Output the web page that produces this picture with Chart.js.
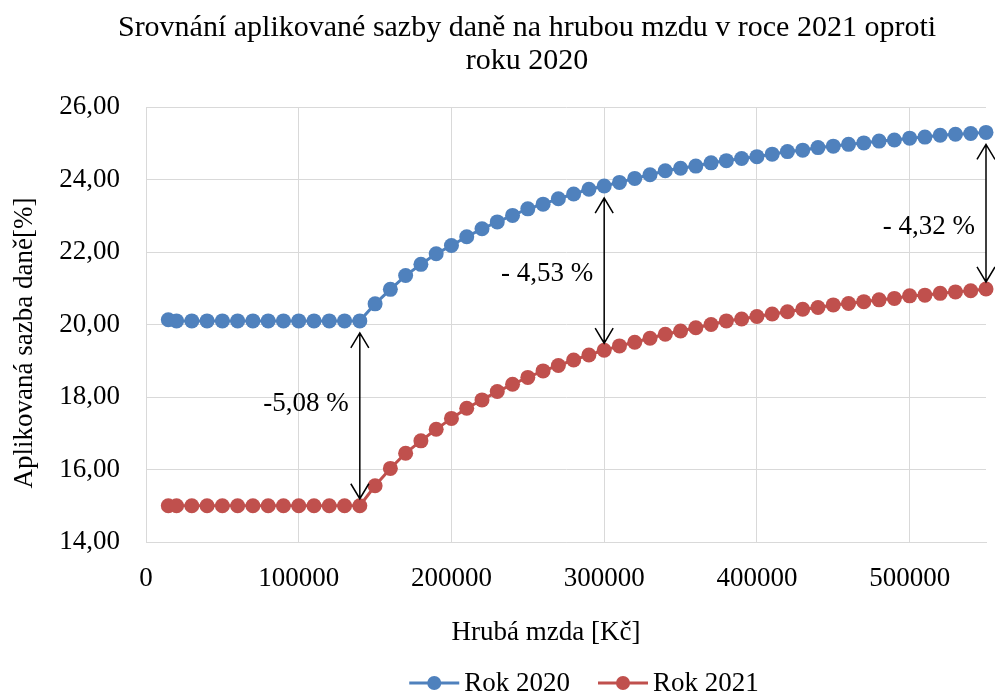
<!DOCTYPE html>
<html>
<head>
<meta charset="utf-8">
<script src="https://cdn.jsdelivr.net/npm/chart.js@4/dist/chart.umd.min.js"></script>
<style>
  html, body { margin: 0; padding: 0; background: #fff; }
</style>
</head>
<body>
<canvas id="myChart" width="995" height="696"></canvas>
<script>
// hrubá mzda [Kč]
const mzda = [
  14600, 20000, 30000, 40000, 50000, 60000, 70000, 80000, 90000, 100000,
  110000, 120000, 130000, 140000, 150000, 160000, 170000, 180000, 190000, 200000,
  210000, 220000, 230000, 240000, 250000, 260000, 270000, 280000, 290000, 300000,
  310000, 320000, 330000, 340000, 350000, 360000, 370000, 380000, 390000, 400000,
  410000, 420000, 430000, 440000, 450000, 460000, 470000, 480000, 490000, 500000,
  510000, 520000, 530000, 540000, 550000
];

const rok2020 = [
  20.13, 20.10, 20.10, 20.10, 20.10, 20.10, 20.10, 20.10, 20.10, 20.10,
  20.10, 20.10, 20.10, 20.10, 20.57, 20.97, 21.35, 21.66, 21.95, 22.18,
  22.42, 22.64, 22.83, 23.01, 23.19, 23.32, 23.47, 23.60, 23.73, 23.82,
  23.92, 24.03, 24.13, 24.24, 24.31, 24.37, 24.46, 24.52, 24.58, 24.63,
  24.70, 24.77, 24.81, 24.88, 24.92, 24.97, 25.01, 25.06, 25.09, 25.14,
  25.17, 25.22, 25.25, 25.27, 25.30
];

const rok2021 = [
  15.00, 15.00, 15.00, 15.00, 15.00, 15.00, 15.00, 15.00, 15.00, 15.00,
  15.00, 15.00, 15.00, 15.00, 15.55, 16.03, 16.45, 16.79, 17.11, 17.41,
  17.69, 17.92, 18.15, 18.35, 18.54, 18.72, 18.87, 19.02, 19.16, 19.29,
  19.41, 19.51, 19.62, 19.73, 19.82, 19.91, 20.00, 20.10, 20.15, 20.22,
  20.29, 20.35, 20.42, 20.47, 20.54, 20.58, 20.63, 20.68, 20.72, 20.79,
  20.81, 20.86, 20.90, 20.93, 20.98
];

// popisky osy x (osa končí na 550000 bez popisku)
const xTicks = [0, 100000, 200000, 300000, 400000, 500000];

// šipky s rozdílem
const rozdilMzda = [140000, 300000, 550000];
const rozdilText = ["-5,08 %", "- 4,53 %", "- 4,32 %"];

const titleLines = ["Srovnání aplikované sazby daně na hrubou mzdu v roce 2021 oproti", "roku 2020"];
const xTitle = "Hrubá mzda [Kč]";
const yTitle = "Aplikovaná sazba daně[%]";

const FONT = "'Liberation Serif', 'Times New Roman', serif";
const BLUE = "#4f81bd";
const RED = "#c0504d";
const GRID = "#d9d9d9";

// posun popisku šipky (px) kvůli ručnímu rozmístění v originálu
const labelShift = [-12, 3, 14];

const arrowPlugin = {
  id: "arrows",
  afterDatasetsDraw(chart) {
    const ctx = chart.ctx;
    const xs = chart.scales.x;
    const ys = chart.scales.y;
    ctx.save();
    ctx.strokeStyle = "#000";
    ctx.fillStyle = "#000";
    ctx.lineWidth = 1.5;
    rozdilMzda.forEach((m, k) => {
      const i = mzda.indexOf(m);
      const x = xs.getPixelForValue(m);
      const y1 = ys.getPixelForValue(rok2020[i]) + 12;
      const y2 = ys.getPixelForValue(rok2021[i]) - 7;
      ctx.beginPath();
      ctx.moveTo(x, y1);
      ctx.lineTo(x, y2);
      // hroty
      ctx.moveTo(x - 9, y1 + 15);
      ctx.lineTo(x, y1);
      ctx.lineTo(x + 9, y1 + 15);
      ctx.moveTo(x - 9, y2 - 15);
      ctx.lineTo(x, y2);
      ctx.lineTo(x + 9, y2 - 15);
      ctx.stroke();

      ctx.font = "27px " + FONT;
      ctx.textAlign = "right";
      ctx.textBaseline = "middle";
      ctx.fillText(rozdilText[k], x - 11, (y1 + y2) / 2 + labelShift[k]);
    });
    ctx.restore();
  },
};

const textPlugin = {
  id: "texts",
  afterDraw(chart) {
    const ctx = chart.ctx;
    ctx.save();
    ctx.fillStyle = "#000";
    ctx.textAlign = "center";
    ctx.textBaseline = "middle";

    ctx.font = "30px " + FONT;
    titleLines.forEach((t, i) => ctx.fillText(t, 527, 28 + i * 33));

    ctx.font = "27px " + FONT;
    ctx.fillText(xTitle, 546, 633);

    ctx.save();
    ctx.translate(25, 343);
    ctx.rotate(-Math.PI / 2);
    ctx.fillText(yTitle, 0, 0);
    ctx.restore();

    // legenda (čára + bod)
    const items = chart.data.datasets.map((ds) => ({ label: ds.label, color: ds.borderColor }));
    const lineLen = 50, gap = 5, itemGap = 28;
    const widths = items.map((it) => lineLen + gap + ctx.measureText(it.label).width);
    const total = widths.reduce((a, b) => a + b, 0) + itemGap * (items.length - 1);
    let x = 584 - total / 2;
    const y = 683;
    ctx.textAlign = "left";
    items.forEach((it, i) => {
      ctx.strokeStyle = it.color;
      ctx.fillStyle = it.color;
      ctx.lineWidth = 3;
      ctx.beginPath();
      ctx.moveTo(x, y);
      ctx.lineTo(x + lineLen, y);
      ctx.stroke();
      ctx.beginPath();
      ctx.arc(x + lineLen / 2, y, 7, 0, Math.PI * 2);
      ctx.fill();
      ctx.fillStyle = "#000";
      ctx.fillText(it.label, x + lineLen + gap, y + 1);
      x += widths[i] + itemGap;
    });
    ctx.restore();
  },
};

const ctx = document.getElementById("myChart").getContext("2d");
const chart = new Chart(ctx, {
  type: "line",
  data: {
    datasets: [
      {
        label: "Rok 2020",
        data: mzda.map((m, i) => ({ x: m, y: rok2020[i] })),
        borderColor: BLUE,
        backgroundColor: BLUE,
        borderWidth: 3,
        pointRadius: 7.5,
        pointHoverRadius: 7.5,
        pointBorderWidth: 0,
        tension: 0,
        clip: false,
      },
      {
        label: "Rok 2021",
        data: mzda.map((m, i) => ({ x: m, y: rok2021[i] })),
        borderColor: RED,
        backgroundColor: RED,
        borderWidth: 3,
        pointRadius: 7.5,
        pointHoverRadius: 7.5,
        pointBorderWidth: 0,
        tension: 0,
        clip: false,
      },
    ],
  },
  options: {
    responsive: false,
    animation: false,
    devicePixelRatio: 1,
    layout: { padding: { top: 107, right: 9, bottom: 0, left: 0 } },
    plugins: {
      legend: { display: false },
      title: { display: false },
      tooltip: { enabled: false },
    },
    scales: {
      x: {
        type: "linear",
        min: 0,
        max: 550000,
        afterBuildTicks: (scale) => {
          scale.ticks = xTicks.map((v) => ({ value: v }));
        },
        afterFit: (scale) => { scale.height = 154; },
        ticks: {
          autoSkip: false,
          padding: 21,
          color: "#000",
          font: { family: FONT, size: 27 },
          maxRotation: 0,
          callback: (v) => String(v),
        },
        grid: { color: GRID, lineWidth: 1, drawTicks: false },
        border: { color: GRID, width: 1 },
      },
      y: {
        min: 14,
        max: 26,
        afterFit: (scale) => { scale.width = 146; },
        ticks: {
          stepSize: 2,
          padding: 26,
          color: "#000",
          font: { family: FONT, size: 27 },
          callback: (v) => v.toFixed(2).replace(".", ","),
        },
        grid: { color: GRID, lineWidth: 1, drawTicks: false },
        border: { color: GRID, width: 1 },
      },
    },
  },
  plugins: [arrowPlugin, textPlugin],
});
</script>
</body>
</html>
